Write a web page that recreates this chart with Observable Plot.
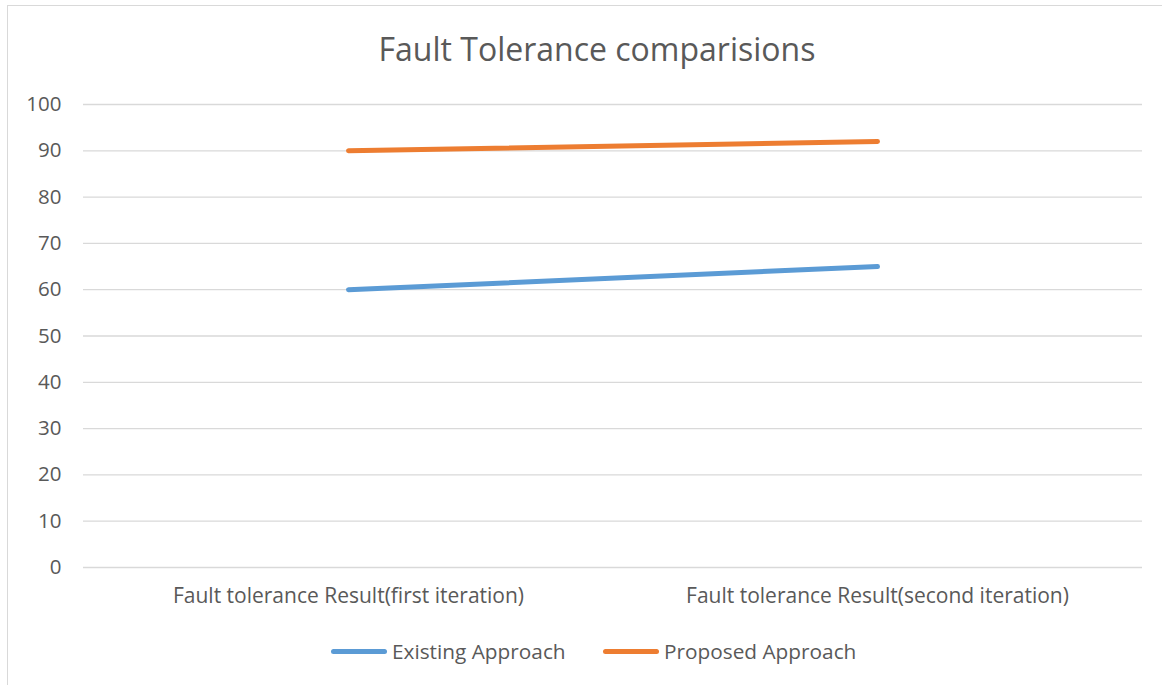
<!DOCTYPE html>
<html>
<head>
<meta charset="utf-8">
<script src="https://cdn.jsdelivr.net/npm/d3@7"></script>
<script src="https://cdn.jsdelivr.net/npm/@observablehq/plot@0.6"></script>
<style>
  html, body { margin: 0; padding: 0; background: #fff; }
  #wrap { position: relative; width: 1162px; height: 685px; overflow: hidden; font-family: "Open Sans", Lato, sans-serif; color: #595959; }
  #frame { position: absolute; left: 7px; top: 5px; width: 1170px; height: 700px; border: 1px solid #d9d9d9; box-sizing: border-box; }
  #title { position: absolute; left: 16px; width: 1162px; top: 28px; text-align: center; font-size: 32px; line-height: 42px; }
  #chart { position: absolute; left: 0; top: 0; }
  #legend { position: absolute; top: 637px; left: 0; width: 1162px; font-size: 20.8px; line-height: 28px; }
  .item { position: absolute; top: 0; display: flex; align-items: center; white-space: nowrap; }
  .sw { width: 56px; height: 5px; border-radius: 3px; margin-right: 5px; }
</style>
</head>
<body>
<div id="wrap">
  <div id="frame"></div>
  <div id="chart"></div>
  <div id="title"></div>
  <div id="legend"></div>
</div>
<script>
const titleText = "Fault Tolerance comparisions";
const categories = ["Fault tolerance Result(first iteration)", "Fault tolerance Result(second iteration)"];
const seriesNames = ["Existing Approach", "Proposed Approach"];
const existingValues = [60, 65];
const proposedValues = [90, 92];
const colors = ["#5B9BD5", "#ED7D31"];
const yTicks = [0, 10, 20, 30, 40, 50, 60, 70, 80, 90, 100];

const data = [];
categories.forEach((c, i) => {
  data.push({series: seriesNames[0], category: c, value: existingValues[i]});
  data.push({series: seriesNames[1], category: c, value: proposedValues[i]});
});

const plot = Plot.plot({
  width: 1162,
  height: 685,
  marginTop: 104,
  marginBottom: 118,
  marginLeft: 83,
  marginRight: 20,
  style: { fontFamily: "'Open Sans', Lato, sans-serif", color: "#595959", background: "transparent" },
  x: { type: "point", domain: categories, padding: 0.5, label: null },
  y: { domain: [0, 100], label: null },
  color: { domain: seriesNames, range: colors },
  marks: [
    Plot.gridY(yTicks, { stroke: "#d9d9d9", strokeOpacity: 1, strokeWidth: 1.3 }),
    Plot.axisY(yTicks, { tickSize: 0, tickPadding: 22, fontSize: 20.5, fill: "#595959", label: null }),
    Plot.axisX({ tickSize: 0, tickPadding: 21, fontSize: 21, fill: "#595959", label: null }),
    Plot.line(data, { x: "category", y: "value", z: "series", stroke: "series", strokeWidth: 5, strokeLinecap: "round", strokeLinejoin: "round" })
  ]
});
document.getElementById("chart").appendChild(plot);
document.getElementById("title").textContent = titleText;

const legend = document.getElementById("legend");
const legendLeft = [331, 603];
seriesNames.forEach((s, i) => {
  const item = document.createElement("div");
  item.className = "item";
  item.style.left = legendLeft[i] + "px";
  const sw = document.createElement("div");
  sw.className = "sw";
  sw.style.background = colors[i];
  const label = document.createElement("span");
  label.textContent = s;
  item.appendChild(sw);
  item.appendChild(label);
  legend.appendChild(item);
});
</script>
</body>
</html>
